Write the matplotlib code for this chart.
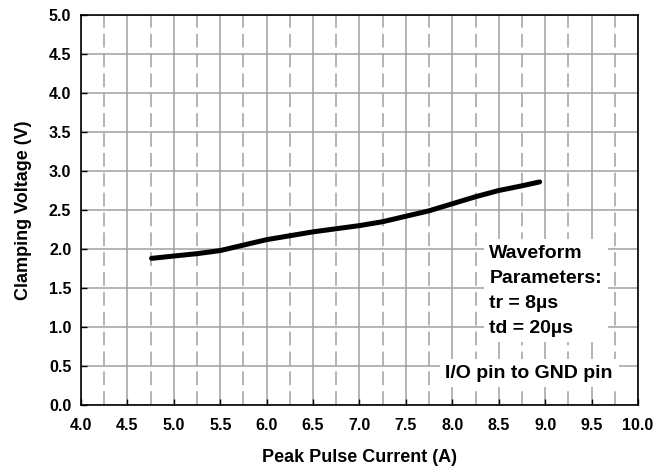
import numpy as np
import matplotlib.pyplot as plt
from matplotlib.ticker import MultipleLocator

plt.rcParams['font.family'] = ['Liberation Sans', 'DejaVu Sans']
plt.rcParams['font.weight'] = 'bold'
plt.rcParams['axes.labelweight'] = 'bold'

# peak pulse current (A) vs clamping voltage (V)
current = [4.76, 5.0, 5.25, 5.5, 5.75, 6.0, 6.25, 6.5, 6.75, 7.0, 7.25, 7.5, 7.75, 8.0, 8.25, 8.5, 8.75, 8.94]
voltage = [1.88, 1.91, 1.94, 1.98, 2.05, 2.12, 2.17, 2.22, 2.26, 2.30, 2.35, 2.42, 2.49, 2.58, 2.67, 2.75, 2.81, 2.86]

xticks = np.arange(4.0, 10.01, 0.5)
yticks = np.arange(0.0, 5.01, 0.5)

fig = plt.figure(figsize=(6.71, 4.72), dpi=100)
ax = fig.add_axes([81/671, 1 - 405/472, (638-81)/671, (405-15)/472])

ax.set_xlim(4, 10)
ax.set_ylim(0, 5)
ax.set_xticks(xticks)
ax.set_yticks(yticks)
ax.set_xticklabels([f'{v:.1f}' for v in xticks], fontweight='bold')
ax.set_yticklabels([f'{v:.1f}' for v in yticks], fontweight='bold')
ax.xaxis.set_minor_locator(MultipleLocator(0.25))

# grid: solid at majors, dashed vertical at minors
ax.grid(True, which='major', color='#a0a0a0', lw=1.1, ls='-')
ax.grid(True, which='minor', axis='x', color='#a0a0a0', lw=1.1, ls=(0, (9, 4)))
ax.set_axisbelow(True)

ax.tick_params(which='both', direction='in', length=4, width=1, labelsize=11.5)
ax.tick_params(axis='x', pad=9)
ax.tick_params(axis='y', pad=7)
ax.tick_params(which='minor', length=0)
for s in ax.spines.values():
    s.set_linewidth(1.2)

ax.plot(current, voltage, color='black', lw=3.6, solid_capstyle='round', zorder=3)

ax.set_xlabel('Peak Pulse Current (A)', fontsize=13, labelpad=12)
ax.set_ylabel('Clamping Voltage (V)', fontsize=13, labelpad=12)

box = dict(facecolor='white', edgecolor='none', pad=4)
ax.text(8.40, 2.05, 'Waveform\nParameters:\ntr = 8\u00b5s\ntd = 20\u00b5s', fontsize=14,
        fontweight='bold', ha='left', va='top', linespacing=1.6, bbox=box, zorder=4)
ax.text(9.73, 0.41, 'I/O pin to GND pin', fontsize=14, fontweight='bold',
        ha='right', va='center', bbox=box, zorder=4)

plt.savefig('out.png', dpi=100)
